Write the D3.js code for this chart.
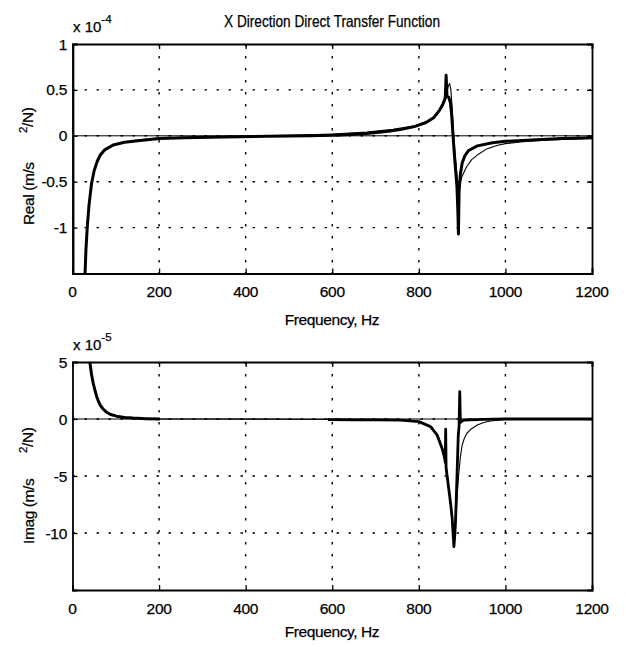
<!DOCTYPE html>
<html>
<head>
<meta charset="utf-8">
<script src="https://cdn.jsdelivr.net/npm/d3@7"></script>
<style>
  html, body { margin: 0; padding: 0; background: #fff; }
  svg text { font-family: "Liberation Sans", Arial, Helvetica, sans-serif; fill: #000; stroke: #000; stroke-width: 0.25; }
</style>
</head>
<body>
<svg id="chart" width="626" height="647"></svg>
<script>
// ---- data (real part in units of 1e-4, imaginary part in units of 1e-5) ----
const freqTicks = [0, 200, 400, 600, 800, 1000, 1200];
const realTicks = [-1, -0.5, 0, 0.5, 1];
const realTickLabels = ["-1", "-0.5", "0", "0.5", "1"];
const imagTicks = [-10, -5, 0, 5];
const imagTickLabels = ["-10", "-5", "0", "5"];

// measured real part [Hz, value]
const realMeasured = [
  [0.3, 4], [1.5, -4], [26, -2.2], [29, -1.5], [31, -1.25], [34, -1.0], [38, -0.76],
  [44, -0.52], [50, -0.38], [57, -0.28], [64, -0.21], [75, -0.15], [94, -0.1],
  [120, -0.07], [156, -0.05], [200, -0.03], [260, -0.02], [350, -0.012], [450, -0.006],
  [550, 0], [620, 0.01], [680, 0.025], [730, 0.05], [760, 0.07], [790, 0.1], [815, 0.14],
  [835, 0.2], [848, 0.28], [856, 0.35], [861, 0.41], [863, 0.66], [865, 0.43], [869, 0.42],
  [873, 0.36], [876, 0.22], [879, 0.0], [882, -0.2], [885, -0.38], [888, -0.55],
  [890, -0.8], [891.5, -1.07], [893, -0.6], [896, -0.42], [900, -0.3], [906, -0.22],
  [915, -0.16], [935, -0.11], [970, -0.075], [1000, -0.06], [1060, -0.045],
  [1130, -0.03], [1200, -0.02]
];
// fitted real part [Hz, value]
const realFit = [
  [20, -3], [28, -1.6], [32, -1.15], [36, -0.85], [42, -0.57], [50, -0.38], [60, -0.25],
  [75, -0.16], [100, -0.09], [150, -0.045], [200, -0.025], [300, -0.01], [400, -0.002],
  [500, 0.006], [600, 0.02], [680, 0.04], [740, 0.07], [790, 0.11], [820, 0.16],
  [840, 0.22], [855, 0.32], [863, 0.43], [868, 0.54], [871, 0.57], [874, 0.5], [877, 0.3],
  [880, 0.05], [883, -0.15], [886, -0.32], [889, -0.48], [892, -0.56], [895, -0.52],
  [900, -0.44], [910, -0.34], [922, -0.26], [935, -0.21], [958, -0.14], [980, -0.105],
  [1000, -0.085], [1040, -0.065], [1100, -0.045], [1200, -0.03]
];
// measured imaginary part, low and high frequency bands [Hz, value]
const imagMeasuredLow = [
  [36, 8], [40, 5], [44, 3.9], [48, 3.1], [52, 2.5], [56, 1.96], [60, 1.55], [64, 1.22],
  [70, 0.9], [78, 0.62], [88, 0.4], [102, 0.25], [120, 0.14], [140, 0.08], [170, 0.03],
  [202, 0]
];
const imagMeasuredHigh = [
  [590, -0.05], [650, -0.07], [700, -0.08], [758, -0.1], [800, -0.23], [827, -0.67],
  [842, -1.4], [854, -2.6], [860, -3.5], [861, -3.8], [862, -0.9], [863, -4.3],
  [869, -6.1], [874, -7.6], [877, -8.7], [879, -10], [881, -11.2], [883, -10.2],
  [885, -8.7], [888, -5.2], [891, -1.5], [893, -0.6], [894.5, 2.4], [896, -0.3],
  [899, -0.2], [904, -0.1], [950, -0.03], [1000, 0], [1200, 0]
];
// fitted imaginary part [Hz, value]
const imagFit = [
  [38, 6.5], [42, 4.3], [48, 3.0], [56, 1.9], [64, 1.15], [78, 0.58], [100, 0.25],
  [140, 0.07], [200, 0.01], [300, 0], [500, -0.02], [650, -0.05], [750, -0.1],
  [800, -0.2], [830, -0.7], [845, -1.5], [855, -2.6], [865, -4.6], [872, -7],
  [877, -9.2], [880, -10.6], [882, -10.9], [885, -9.5], [888, -7], [892, -4.9],
  [896, -3.3], [900, -2.3], [905, -1.7], [911, -1.25], [920, -0.9], [935, -0.52],
  [950, -0.3], [965, -0.17], [1000, -0.04], [1100, 0], [1200, 0]
];

// ---- layout ----
const svg = d3.select("#chart");
const x = d3.scaleLinear().domain([0, 1200]).range([72.5, 592]);

const panels = [
  {
    id: "re", y: d3.scaleLinear().domain([-1.5, 1]).range([273.5, 44]),
    ticks: realTicks, tickLabels: realTickLabels, exp: "-4",
    label: "Real (m/s", labelStart: 225, supStart: 133,
    series: [
      { data: realFit, width: 1.1 },
      { data: realMeasured, width: 3 }
    ],
    xTickBaseline: 297, xLabelBaseline: 325
  },
  {
    id: "im", y: d3.scaleLinear().domain([-15, 5]).range([590, 362]),
    ticks: imagTicks, tickLabels: imagTickLabels, exp: "-5",
    label: "Imag (m/s", labelStart: 544, supStart: 453,
    series: [
      { data: imagFit, width: 1.1 },
      { data: imagMeasuredLow, width: 3 },
      { data: imagMeasuredHigh, width: 2.8 }
    ],
    xTickBaseline: 614, xLabelBaseline: 637
  }
];

svg.append("text")
  .attr("x", 332).attr("y", 27)
  .attr("text-anchor", "middle")
  .attr("font-size", 16.5)
  .attr("textLength", 216).attr("lengthAdjust", "spacingAndGlyphs")
  .text("X Direction Direct Transfer Function");

panels.forEach(p => {
  const y = p.y;
  const [x0, x1] = x.range();
  const [yb, yt] = y.range();
  const g = svg.append("g");

  g.append("clipPath").attr("id", "clip-" + p.id)
    .append("rect").attr("x", x0).attr("y", yt).attr("width", x1 - x0).attr("height", yb - yt);

  // dotted grid
  const grid = g.append("g").attr("stroke", "#000").attr("stroke-width", 1.4)
    .attr("stroke-dasharray", "2.5,9.5");
  grid.selectAll("line.v").data(freqTicks.slice(1, -1)).join("line")
    .attr("x1", d => x(d)).attr("x2", d => x(d)).attr("y1", yt).attr("y2", yb);
  grid.selectAll("line.h").data(p.ticks.filter(t => y(t) > yt + 1)).join("line")
    .attr("x1", x0).attr("x2", x1).attr("y1", d => y(d)).attr("y2", d => y(d));

  // zero reference
  g.append("line").attr("x1", x0).attr("x2", x1).attr("y1", y(0)).attr("y2", y(0))
    .attr("stroke", "#000").attr("stroke-width", 1);

  // curves
  const line = d3.line().x(d => x(d[0])).y(d => y(d[1]));
  const curves = g.append("g").attr("clip-path", `url(#clip-${p.id})`);
  p.series.forEach(s => {
    curves.append("path").datum(s.data).attr("d", line)
      .attr("fill", "none").attr("stroke", "#000")
      .attr("stroke-width", s.width).attr("stroke-linejoin", "round");
  });

  // axes: frame with inward ticks on all sides
  const tickLen = 5;
  const axB = d3.axisBottom(x).tickValues(freqTicks).tickSize(-tickLen).tickFormat("");
  const axT = d3.axisTop(x).tickValues(freqTicks).tickSize(-tickLen).tickFormat("");
  const axL = d3.axisLeft(y).tickValues(p.ticks).tickSize(-tickLen).tickFormat("");
  const axR = d3.axisRight(y).tickValues(p.ticks).tickSize(-tickLen).tickFormat("");
  [[axB, `translate(0,${yb})`], [axT, `translate(0,${yt})`],
   [axL, `translate(${x0},0)`], [axR, `translate(${x1},0)`]].forEach(([ax, tr]) => {
    const a = g.append("g").attr("transform", tr).call(ax);
    a.select(".domain").attr("stroke-width", 1.8);
    a.selectAll(".tick line").attr("stroke-width", 1.3);
  });

  // tick labels
  g.selectAll("text.xt").data(freqTicks).join("text")
    .attr("x", d => x(d)).attr("y", p.xTickBaseline)
    .attr("text-anchor", "middle").attr("font-size", 15.5)
    .attr("letter-spacing", -0.3)
    .text(d => d);
  g.selectAll("text.yt").data(p.ticks).join("text")
    .attr("x", 67).attr("y", d => y(d) + 5.5)
    .attr("text-anchor", "end").attr("font-size", 15.5)
    .attr("letter-spacing", -0.3)
    .text((d, i) => p.tickLabels[i]);

  // axis titles
  g.append("text").attr("x", 332).attr("y", p.xLabelBaseline)
    .attr("text-anchor", "middle").attr("font-size", 15.5)
    .attr("letter-spacing", -0.4)
    .text("Frequency, Hz");

  g.append("text")
    .attr("transform", `translate(34,${p.labelStart}) rotate(-90)`)
    .attr("font-size", 15.5).attr("letter-spacing", -0.4)
    .text(p.label);
  const sup = g.append("text")
    .attr("transform", `translate(33,${p.supStart}) rotate(-90)`)
    .attr("font-size", 15.5).attr("letter-spacing", -0.4);
  sup.append("tspan").attr("font-size", 11.5).attr("dy", -6).text("2");
  sup.append("tspan").attr("dy", 6).text("/N)");

  // exponent label
  const ex = g.append("text").attr("x", 73).attr("y", yt - 12).attr("font-size", 15);
  ex.append("tspan").text("x 10");
  ex.append("tspan").attr("font-size", 11.5).attr("dy", -9).text(p.exp);
});
</script>
</body>
</html>
